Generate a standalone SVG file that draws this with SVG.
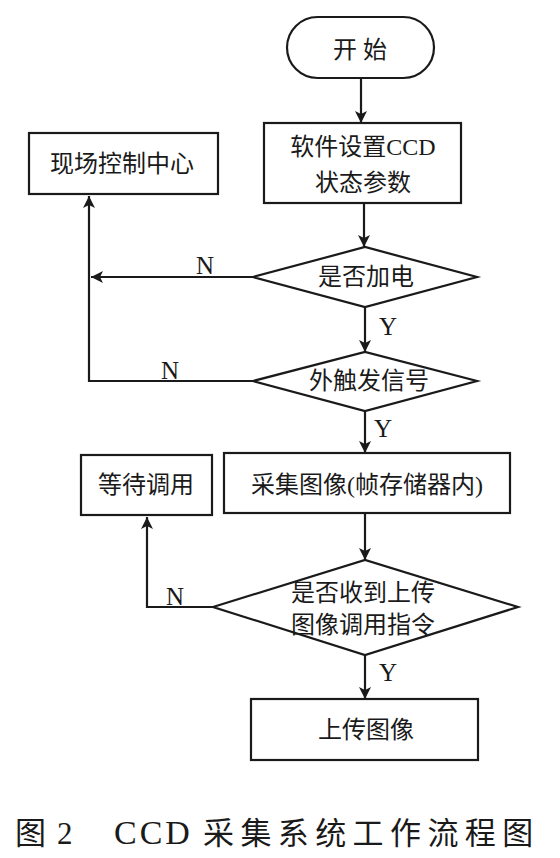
<svg xmlns="http://www.w3.org/2000/svg" width="560" height="858" viewBox="0 0 560 858">
<defs>
<marker id="arr" markerUnits="userSpaceOnUse" markerWidth="12" markerHeight="16" viewBox="0 0 12 16" refX="12" refY="6" orient="auto">
<path d="M0,0 L12,6 L0,12 L3,6 Z" fill="#1a1a1a"/>
</marker>
<style>
.shape{fill:#fff;stroke:#1a1a1a;stroke-width:2.2}
.line{fill:none;stroke:#1a1a1a;stroke-width:2.2}
.t{font-family:"Liberation Serif","Noto Sans CJK SC",serif;font-size:24px;fill:#1a1a1a;text-anchor:middle}
.lab{font-family:"Liberation Serif",serif;font-size:25px;fill:#1a1a1a;text-anchor:middle}
.cap{font-family:"Liberation Serif","Noto Sans CJK SC",serif;font-size:31px;fill:#1a1a1a}
</style>
</defs>
<rect width="560" height="858" fill="#fff"/>
<g id="connectors">
<path class="line" d="M361,78 V123" marker-end="url(#arr)"/>
<path class="line" d="M364,203 V247" marker-end="url(#arr)"/>
<path class="line" d="M253,277 H91" marker-end="url(#arr)"/>
<path class="line" d="M365,307 V352" marker-end="url(#arr)"/>
<path class="line" d="M253,381 H89 V196" marker-end="url(#arr)"/>
<path class="line" d="M365,411 V453" marker-end="url(#arr)"/>
<path class="line" d="M365,513 V560" marker-end="url(#arr)"/>
<path class="line" d="M213,607 H147 V517" marker-end="url(#arr)"/>
<path class="line" d="M365,655 V699" marker-end="url(#arr)"/>
<text class="lab" x="205" y="274">N</text>
<text class="lab" x="388" y="335">Y</text>
<text class="lab" x="170" y="379">N</text>
<text class="lab" x="383" y="437">Y</text>
<text class="lab" x="175" y="605">N</text>
<text class="lab" x="388" y="681">Y</text>
</g>
<g id="start">
<rect class="shape" x="287" y="17" width="147" height="61" rx="30.5"/>
<text class="t" x="360" y="58">开 始</text>
</g>
<g id="setup">
<rect class="shape" x="264" y="123" width="197" height="80"/>
<text class="t" x="363" y="155">软件设置CCD</text>
<text class="t" x="363" y="191">状态参数</text>
</g>
<g id="control">
<rect class="shape" x="29" y="133" width="189" height="61"/>
<text class="t" x="122" y="172">现场控制中心</text>
</g>
<g id="power">
<polygon class="shape" points="253,277 365,247 477,277 365,307"/>
<text class="t" x="366" y="285">是否加电</text>
</g>
<g id="trigger">
<polygon class="shape" points="253,381 365,352 477,381 365,411"/>
<text class="t" x="369" y="389">外触发信号</text>
</g>
<g id="capture">
<rect class="shape" x="224" y="453" width="286" height="60"/>
<text class="t" x="367" y="493">采集图像(帧存储器内)</text>
</g>
<g id="wait">
<rect class="shape" x="81" y="455" width="131" height="60"/>
<text class="t" x="146" y="493">等待调用</text>
</g>
<g id="received">
<polygon class="shape" points="213,607 365,560 518,607 365,655"/>
<text class="t" x="363" y="601">是否收到上传</text>
<text class="t" x="363" y="633">图像调用指令</text>
</g>
<g id="upload">
<rect class="shape" x="251" y="699" width="227" height="61"/>
<text class="t" x="366" y="738">上传图像</text>
</g>
<g id="caption">
<text class="cap" y="844"><tspan x="15">图</tspan><tspan x="57">2</tspan><tspan x="114" font-size="34" letter-spacing="3">CCD</tspan><tspan x="203" letter-spacing="6.4">采集系统工作流程图</tspan></text>
</g>
</svg>
